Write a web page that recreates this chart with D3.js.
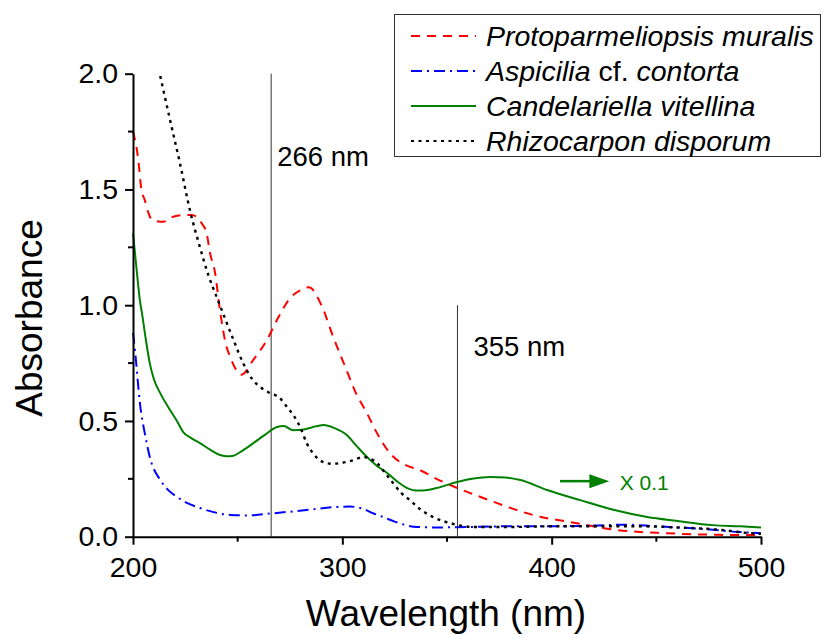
<!DOCTYPE html>
<html>
<head>
<meta charset="utf-8">
<script src="https://cdn.jsdelivr.net/npm/d3@7"></script>
<style>
  body { margin: 0; background: #fff; }
  text { font-family: Arial, "Liberation Sans", sans-serif; }
</style>
</head>
<body>
<script>
// spectra: [wavelength nm, absorbance]
var muralis = [[200,1.75],[202.5,1.63],[204,1.5],[205.6,1.455],[207.3,1.40],[209,1.37],[214.4,1.36],[218.4,1.38],
  [224.8,1.39],[228,1.39],[232.8,1.354],[235.2,1.31],[236.8,1.225],[239.2,1.14],[241.5,0.98],[244.7,0.82],
  [246.3,0.78],[248.7,0.73],[251.9,0.70],[257.4,0.763],[264,0.85],[269,0.94],[275,1.03],[280,1.065],[284,1.078],
  [290,1.0],[295.6,0.864],[302,0.72],[306,0.63],[311.8,0.533],[317,0.44],[322.8,0.36],[330,0.31],[337,0.288],
  [345,0.25],[355,0.21],[365,0.175],[374,0.145],[385,0.11],[395,0.085],[403,0.072],[412,0.058],[430,0.03],
  [455,0.015],[480,0.008],[494,0.007],[500,0.008]];

var contorta = [[200,0.88],[201,0.80],[203.3,0.577],[206,0.43],[208,0.345],[213,0.245],[217,0.2],[221,0.172],
  [226,0.145],[232,0.124],[240,0.103],[246.5,0.094],[255,0.092],[265.6,0.10],[275,0.108],[286,0.118],
  [295,0.127],[303.7,0.13],[310,0.12],[315,0.10],[319.5,0.085],[325,0.065],[335.7,0.042],[345,0.04],
  [360,0.042],[380,0.045],[400,0.045],[420,0.048],[435,0.052],[450,0.045],[470,0.035],[490,0.02],[500,0.015]];

var vitellina = [[200,1.31],[201,1.22],[202,1.13],[203.3,1.02],[204.3,0.965],[206,0.86],[208,0.75],[210,0.68],
  [213,0.62],[217.7,0.547],[221,0.50],[224,0.452],[228,0.425],[232,0.404],[237,0.375],[241.6,0.353],[245,0.347],
  [248,0.35],[252,0.37],[257.5,0.404],[263,0.44],[268.8,0.474],[272,0.478],[276.5,0.46],[281,0.462],[288,0.478],
  [291,0.482],[296,0.47],[302,0.44],[307,0.39],[311.8,0.344],[316,0.31],[321.4,0.275],[326,0.24],[331,0.21],
  [335,0.2],[338.6,0.2],[345,0.21],[354.8,0.236],[362,0.25],[370.6,0.258],[378,0.256],[385,0.245],[397.8,0.202],
  [413.6,0.158],[430,0.115],[445.6,0.085],[460,0.068],[477,0.05],[490,0.045],[500,0.04]];

var disporum = [[213,1.99],[217.7,1.80],[222.5,1.61],[227.2,1.41],[232,1.25],[236,1.13],[240,1.035],[243,0.965],
  [248,0.85],[252.6,0.75],[257,0.68],[260.7,0.647],[265.5,0.62],[270,0.6],[273.6,0.56],[277,0.52],[279.8,0.474],
  [283,0.404],[286,0.36],[291,0.322],[295,0.315],[299,0.318],[305,0.33],[310,0.344],[313,0.338],[316.6,0.318],
  [320,0.28],[324.2,0.232],[328,0.19],[332.3,0.158],[337,0.12],[343.3,0.085],[351.4,0.059],[362.5,0.042],
  [380,0.042],[400,0.045],[420,0.045],[440,0.045],[460,0.04],[480,0.03],[495,0.015],[500,0.012]];

var seriesNames = ["Protoparmeliopsis muralis", "Aspicilia cf. contorta", "Candelariella vitellina", "Rhizocarpon disporum"];
var markers = [{nm: 266, top: 2.0, label: "266 nm", ly: 1.6, dx: 6}, {nm: 355, top: 1.0, label: "355 nm", ly: 0.78, dx: 16}];
var xTicks = [200, 300, 400, 500], xMinor = [250, 350, 450];
var yTicks = [0, 0.5, 1.0, 1.5, 2.0], yMinor = [0.25, 0.75, 1.25, 1.75];

var W = 826, H = 635;
var svg = d3.select("body").append("svg").attr("width", W).attr("height", H);

var x = d3.scaleLinear().domain([200, 500]).range([133, 761]);
var y = d3.scaleLinear().domain([0, 2]).range([536.7, 73.7]);

// spectra
var styles = [
  {data: muralis, color: "#ff0000", dash: "9,7"},
  {data: contorta, color: "#0000ff", dash: "11,5,2,5"},
  {data: vitellina, color: "#008000", dash: null},
  {data: disporum, color: "#000000", dash: "3,4.5"}
];
var line = d3.line().x(function(d) { return x(d[0]); }).y(function(d) { return y(d[1]); })
  .curve(d3.curveMonotoneX);

// marker lines
markers.forEach(function(m) {
  svg.append("line")
    .attr("x1", x(m.nm)).attr("x2", x(m.nm))
    .attr("y1", y(0)).attr("y2", y(m.top))
    .attr("stroke", "#333").attr("stroke-width", 1);
  svg.append("text")
    .attr("x", x(m.nm) + m.dx).attr("y", y(m.ly))
    .attr("font-size", 27.5).text(m.label);
});

styles.forEach(function(s) {
  svg.append("path").datum(s.data)
    .attr("d", line)
    .attr("fill", "none")
    .attr("stroke", s.color)
    .attr("stroke-width", s.color === "#000000" ? 2.4 : 2)
    .attr("stroke-dasharray", s.dash);
});

// axes
var yAxis = svg.append("g").attr("transform", "translate(" + x(200) + ",0)")
  .call(d3.axisLeft(y).tickValues(yTicks).tickFormat(d3.format(".1f")).tickSize(8).tickSizeOuter(0).tickPadding(7));
yAxis.append("g").selectAll("line").data(yMinor).enter().append("line")
  .attr("x1", -5).attr("x2", 0).attr("y1", function(d) { return y(d); }).attr("y2", function(d) { return y(d); })
  .attr("stroke", "#000").attr("stroke-width", 2);

var xAxis = svg.append("g").attr("transform", "translate(0," + y(0) + ")")
  .call(d3.axisBottom(x).tickValues(xTicks).tickFormat(d3.format("d")).tickSize(8).tickSizeOuter(0).tickPadding(12));
xAxis.append("g").selectAll("line").data(xMinor).enter().append("line")
  .attr("x1", function(d) { return x(d); }).attr("x2", function(d) { return x(d); }).attr("y1", 0).attr("y2", 5)
  .attr("stroke", "#000").attr("stroke-width", 2);

[xAxis, yAxis].forEach(function(a) {
  a.selectAll("path, line").attr("stroke", "#000").attr("stroke-width", 2);
  a.selectAll("text").attr("font-size", 28.5).attr("fill", "#000")
    .attr("font-family", "Arial, 'Liberation Sans', sans-serif");
});

// axis titles
svg.append("text")
  .attr("x", (x(200) + x(500)) / 2 - 1).attr("y", 626)
  .attr("text-anchor", "middle").attr("font-size", 37)
  .text("Wavelength (nm)");
svg.append("text")
  .attr("transform", "rotate(-90)")
  .attr("x", -318).attr("y", 42)
  .attr("text-anchor", "middle").attr("font-size", 37)
  .text("Absorbance");

// x 0.1 annotation for the green curve
svg.append("line")
  .attr("x1", x(404)).attr("x2", x(419)).attr("y1", y(0.24)).attr("y2", y(0.24))
  .attr("stroke", "#008000").attr("stroke-width", 2.5);
svg.append("path")
  .attr("d", "M" + x(418) + "," + (y(0.24) - 7) + "L" + x(427.5) + "," + y(0.24) + "L" + x(418) + "," + (y(0.24) + 7) + "Z")
  .attr("fill", "#008000");
svg.append("text")
  .attr("x", x(432.5)).attr("y", y(0.24) + 9)
  .attr("font-size", 21).attr("fill", "#008000")
  .text("X 0.1");

// legend
var legend = svg.append("g");
legend.append("rect")
  .attr("x", 394.5).attr("y", 14.5).attr("width", 426).attr("height", 142)
  .attr("fill", "#fff").attr("stroke", "#333").attr("stroke-width", 1);
var rowY = [36, 71, 106, 141];
styles.forEach(function(s, i) {
  legend.append("line")
    .attr("x1", 411).attr("x2", 476).attr("y1", rowY[i]).attr("y2", rowY[i])
    .attr("stroke", s.color).attr("stroke-width", 2)
    .attr("stroke-dasharray", s.dash);
  var t = legend.append("text")
    .attr("x", 486).attr("y", rowY[i] + 10)
    .attr("font-size", 28.5);
  if (i === 1) {
    t.append("tspan").attr("font-style", "italic").text("Aspicilia");
    t.append("tspan").text(" cf. ");
    t.append("tspan").attr("font-style", "italic").text("contorta");
  } else {
    t.attr("font-style", "italic").text(seriesNames[i]);
  }
});
</script>
</body>
</html>
